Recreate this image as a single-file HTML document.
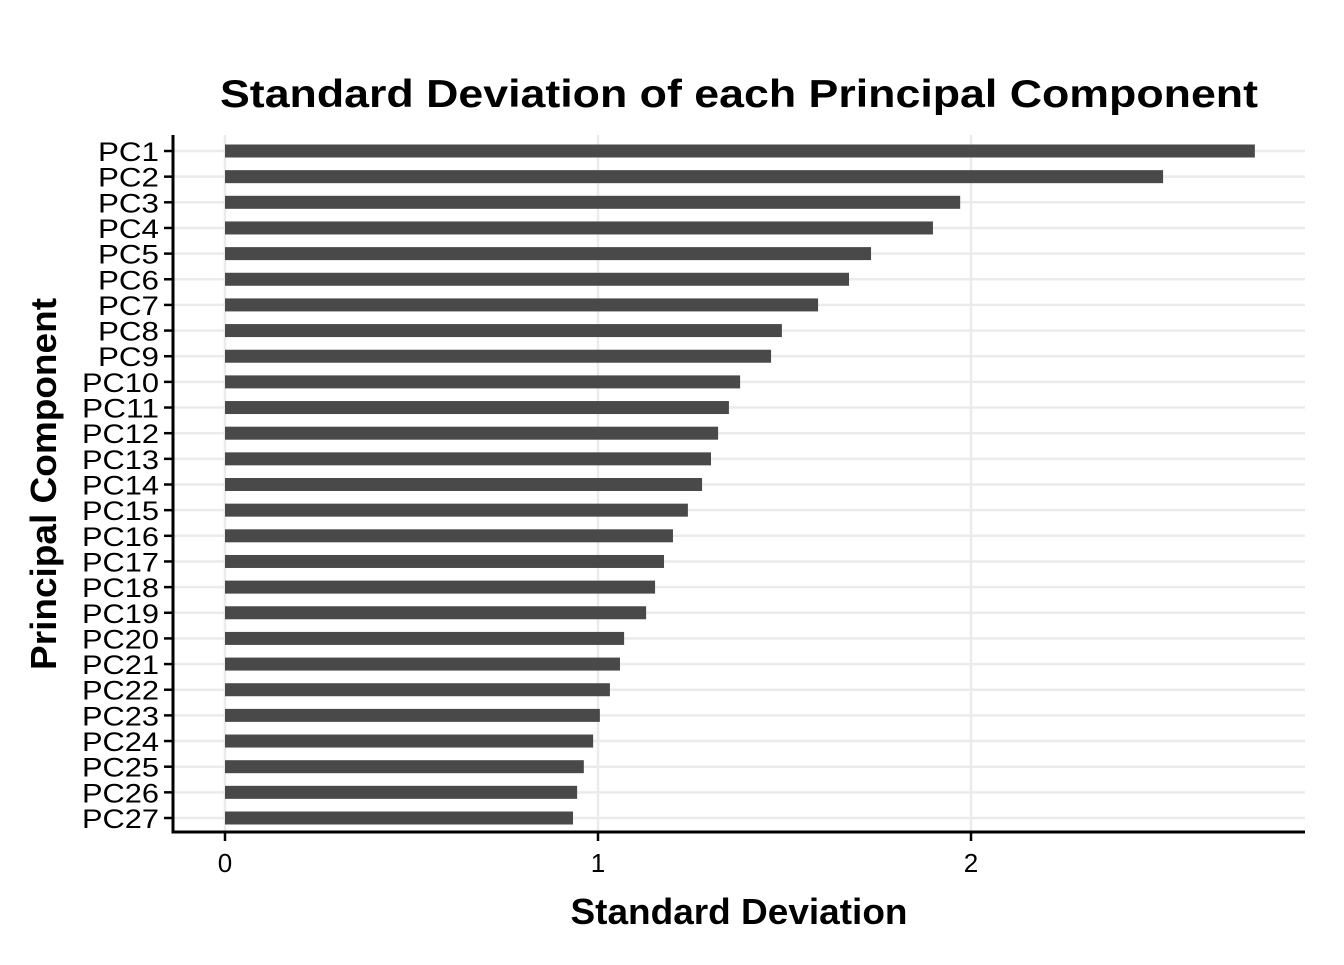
<!DOCTYPE html>
<html><head><meta charset="utf-8"><style>
body{margin:0;background:#fff}
svg text{font-family:"Liberation Sans",Arial,sans-serif}
</style></head><body>
<svg id="chart" width="1344" height="960" xmlns="http://www.w3.org/2000/svg">
<rect width="1344" height="960" fill="#fff"/>
<g id="grid"></g><g id="bars"></g><g id="axes"></g>
<text x="739" y="107" text-anchor="middle" font-size="39" font-weight="bold" textLength="1038" lengthAdjust="spacingAndGlyphs">Standard Deviation of each Principal Component</text>
<text x="739" y="924" text-anchor="middle" font-size="36" font-weight="bold" textLength="337" lengthAdjust="spacingAndGlyphs">Standard Deviation</text>
<text transform="translate(56,484) rotate(-90)" text-anchor="middle" font-size="36" font-weight="bold" textLength="372" lengthAdjust="spacingAndGlyphs">Principal Component</text>
</svg>
<script>
const categories=["PC1","PC2","PC3","PC4","PC5","PC6","PC7","PC8","PC9","PC10","PC11","PC12","PC13","PC14","PC15","PC16","PC17","PC18","PC19","PC20","PC21","PC22","PC23","PC24","PC25","PC26","PC27"];
const sdValues=[2.761,2.515,1.971,1.898,1.732,1.673,1.590,1.493,1.464,1.381,1.351,1.322,1.303,1.279,1.241,1.201,1.177,1.153,1.129,1.070,1.059,1.032,1.005,0.987,0.962,0.944,0.933];
const xTicks=[0,1,2];
const NS="http://www.w3.org/2000/svg";
const xS=v=>225+v*373;
const yS=i=>151+i*(667/26);
function mk(t,a,p){const e=document.createElementNS(NS,t);for(const k in a)e.setAttribute(k,a[k]);p.appendChild(e);return e;}
const grid=document.getElementById('grid'),bars=document.getElementById('bars'),axes=document.getElementById('axes');
xTicks.forEach(t=>{
 const g=mk('line',{x1:xS(t),x2:xS(t),y1:135,y2:832,stroke:'#ebebeb','stroke-width':2.5},grid);
 
 
 const tk=mk('line',{x1:xS(t),x2:xS(t),y1:832,y2:841,stroke:'#000','stroke-width':2.5},axes);
 
 
 const lb=mk('text',{x:xS(t),y:872,'text-anchor':'middle','font-size':26,fill:'#000'},axes);
 lb.textContent=t;
 
 
});
categories.forEach((c,i)=>{
 const y=yS(i);
 const g=mk('line',{x1:173,x2:1305,y1:y,y2:y,stroke:'#ebebeb','stroke-width':2.5},grid);
 
 
 const b=mk('rect',{x:xS(0),y:y-6.5,width:xS(sdValues[i])-xS(0),height:13,fill:'#494949'},bars);
 
 
 const tk=mk('line',{x1:164,x2:173,y1:y,y2:y,stroke:'#000','stroke-width':2.5},axes);
 
 
 const lb=mk('text',{x:159,y:y+10,'text-anchor':'end','font-size':27,fill:'#000'},axes);
 lb.textContent=c;
 
 
 lb.setAttribute('textLength',(c.length===3?61:77));
 lb.setAttribute('lengthAdjust','spacingAndGlyphs');
});
const ya=mk('line',{x1:173,x2:173,y1:135,y2:833.5,stroke:'#000','stroke-width':3},axes);


const xa=mk('line',{x1:171.5,x2:1305,y1:832,y2:832,stroke:'#000','stroke-width':3},axes);


</script>
</body></html>
